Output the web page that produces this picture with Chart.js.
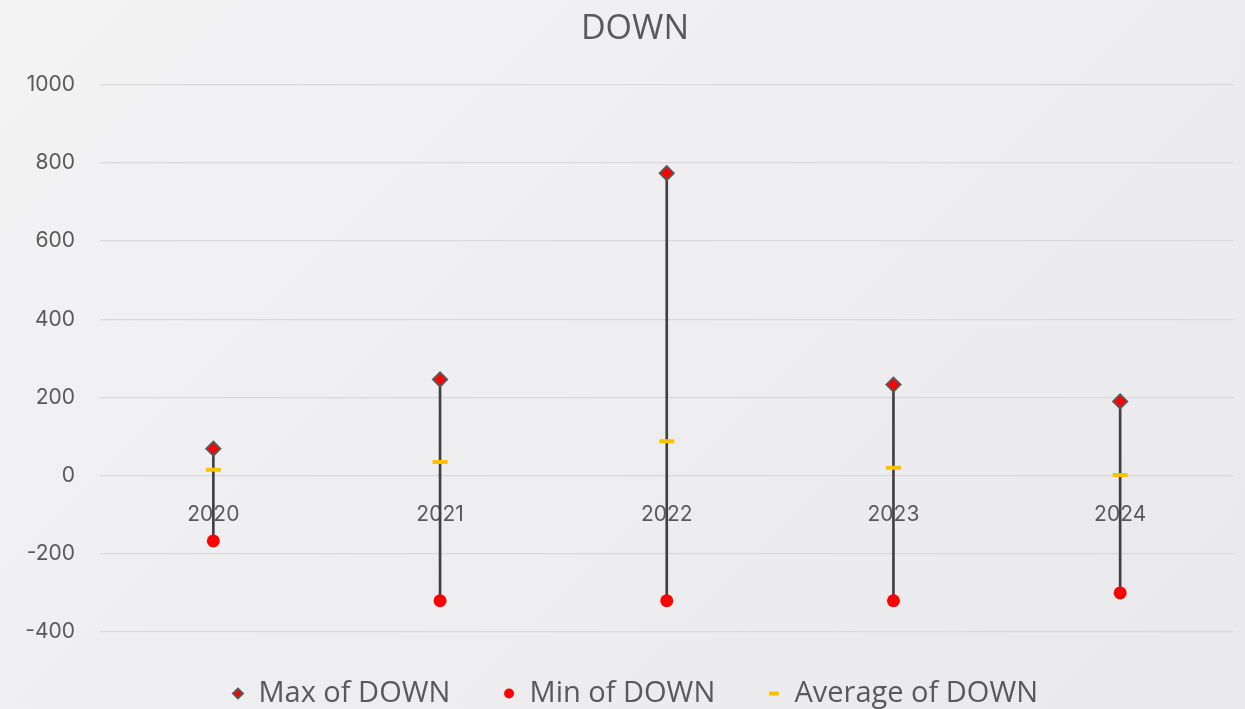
<!DOCTYPE html>
<html>
<head>
<meta charset="utf-8">
<script src="https://cdn.jsdelivr.net/npm/chart.js@4.4.1/dist/chart.umd.min.js"></script>
<style>
  html, body { margin: 0; padding: 0; }
  body {
    width: 1245px; height: 709px; overflow: hidden;
    background: linear-gradient(135deg, #f3f3f4 0%, #eeedf0 50%, #e9e8eb 100%);
  }
  #wrap { position: relative; width: 1245px; height: 709px; }
  canvas { display: block; }
</style>
</head>
<body>
<div id="wrap"><canvas id="c" width="1245" height="709"></canvas></div>
<script>
const categories = ['2020', '2021', '2022', '2023', '2024'];
const maxValues = [69, 246, 774, 233, 190];
const minValues = [-167, -320, -320, -320, -300];
const avgValues = [15, 35, 88, 20, 2];
const yTicks = [-400, -200, 0, 200, 400, 600, 800, 1000];

const ranges = categories.map((c, i) => [minValues[i], maxValues[i]]);
const textColor = '#595959';
const legendGap = '       ';

// shift title and legend boxes so they are centred like the original
const boxShift = {
  id: 'boxShift',
  afterLayout(chart) {
    if (chart.titleBlock) chart.titleBlock.left = 34;
    if (chart.legend) chart.legend.left = 34;
  }
};

new Chart(document.getElementById('c'), {
  plugins: [boxShift],
  data: {
    labels: categories,
    datasets: [
      {
        type: 'bar', label: 'range', data: ranges,
        backgroundColor: '#404040', borderWidth: 0,
        barThickness: 2, order: 10, xAxisID: 'x'
      },
      {
        type: 'line', label: 'Max of DOWN', data: maxValues, showLine: false,
        pointStyle: 'rectRot', pointRadius: 7, pointBorderWidth: 2,
        backgroundColor: '#ff0000', borderColor: '#595959',
        pointBackgroundColor: '#ff0000', pointBorderColor: '#595959', order: 1, xAxisID: 'x'
      },
      {
        type: 'line', label: 'Min of DOWN', data: minValues, showLine: false,
        pointStyle: 'circle', pointRadius: 6.5, pointBorderWidth: 0,
        backgroundColor: '#ff0000', borderColor: '#ff0000',
        pointBackgroundColor: '#ff0000', pointBorderColor: '#ff0000', order: 2, xAxisID: 'x'
      },
      {
        type: 'line', label: 'Average of DOWN', data: avgValues, showLine: false,
        pointStyle: 'line', pointRadius: 7.5, pointBorderWidth: 4,
        backgroundColor: '#ffc000', borderColor: '#ffc000',
        pointBackgroundColor: '#ffc000', pointBorderColor: '#ffc000', order: 3, xAxisID: 'x'
      }
    ]
  },
  options: {
    responsive: false,
    animation: false,
    devicePixelRatio: 1,
    layout: { padding: { left: 0, right: 9, top: 0, bottom: -9 } },
    scales: {
      x: {
        type: 'category', position: { y: 0 }, offset: true,
        grid: { display: false, drawTicks: false },
        border: { display: false },
        ticks: { color: textColor, font: { family: 'Inter', size: 21 }, padding: 26 }
      },
      x2: {
        type: 'category', position: 'bottom', offset: true,
        grid: { display: false, drawTicks: false },
        border: { display: false },
        ticks: { display: false },
        afterFit: (scale) => { scale.height = 47; }
      },
      y: {
        min: -400, max: 1000,
        afterBuildTicks: (axis) => { axis.ticks = yTicks.map(v => ({ value: v })); },
        afterFit: (scale) => { scale.width = 100; },
        grid: { color: '#d9d9d9', lineWidth: 1.3, drawTicks: false },
        border: { display: false },
        ticks: {
          color: textColor, font: { family: 'Inter', size: 21 }, padding: 25,
          callback: (v) => String(v)
        }
      }
    },
    plugins: {
      title: {
        display: true, text: 'DOWN', color: textColor,
        font: { family: 'Open Sans', size: 34, weight: 'normal' },
        padding: { top: 9, bottom: 35 }
      },
      legend: {
        display: true, position: 'bottom',
        labels: {
          generateLabels: (chart) => {
            const items = Chart.defaults.plugins.legend.labels.generateLabels(chart)
              .filter(it => it.text !== 'range');
            return items.map((it, i) => ({ ...it, text: i < items.length - 1 ? it.text + legendGap : it.text }));
          },
          usePointStyle: true, boxWidth: 12, boxHeight: 7,
          color: textColor, font: { family: 'Open Sans', size: 29 }, padding: 0
        }
      },
      tooltip: { enabled: false }
    }
  }
});
</script>
</body>
</html>
